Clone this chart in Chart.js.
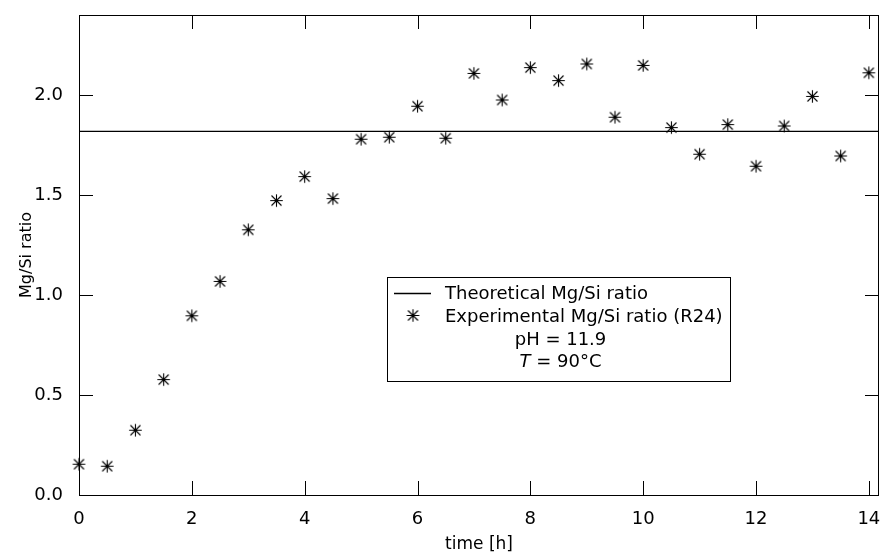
<!DOCTYPE html>
<html><head><meta charset="utf-8">
<script src="https://cdn.jsdelivr.net/npm/chart.js@4/dist/chart.umd.min.js"></script>
<style>html,body{margin:0;padding:0;background:#fff}#wrap{width:883px;height:555px}</style>
</head><body><div id="wrap"><canvas id="c" width="883" height="555"></canvas></div>
<script>
// ---- data ----
const timeH = [0,0.5,1,1.5,2,2.5,3,3.5,4,4.5,5,5.5,6,6.5,7,7.5,8,8.5,9,9.5,10,10.5,11,11.5,12,12.5,13,13.5,14];
const mgSiExperimental = [0.154,0.144,0.324,0.577,0.896,1.068,1.326,1.472,1.592,1.482,1.779,1.789,1.944,1.784,2.108,1.975,2.137,2.072,2.155,1.889,2.148,1.837,1.704,1.852,1.644,1.845,1.993,1.695,2.111];
const mgSiTheoretical = 1.818;
const xTickValues = [0,2,4,6,8,10,12,14];
const yTickValues = [0,0.5,1.0,1.5,2.0];
const xRange = [0, 14.18];
const yRange = [0, 2.4];
const xTitle = 'time [h]';
const yTitle = 'Mg/Si ratio';
const seriesNames = ['Theoretical Mg/Si ratio', 'Experimental Mg/Si ratio (R24)'];
const noteLines = ['pH = 11.9', ['T', ' = 90°C']];

// ---- marker ----
function makeAsterisk() {
  const c = document.createElement('canvas');
  c.width = 17; c.height = 17;
  const g = c.getContext('2d');
  const m = 8.5;
  g.strokeStyle = '#000'; g.lineWidth = 1.1;
  g.beginPath();
  g.moveTo(m-6.3, m); g.lineTo(m+6.3, m);
  g.moveTo(m, m-6.3); g.lineTo(m, m+6.3);
  g.moveTo(m-5, m-5); g.lineTo(m+5, m+5);
  g.moveTo(m-5, m+5); g.lineTo(m+5, m-5);
  g.stroke();
  g.fillStyle = '#000';
  g.beginPath(); g.arc(m, m, 1.7, 0, Math.PI*2); g.fill();
  return c;
}
const asterisk = makeAsterisk();

Chart.defaults.font.family = "'DejaVu Sans', sans-serif";
Chart.defaults.color = '#000';

const framePlugin = {
  id: 'frame',
  afterDatasetsDraw(chart) {
    const {ctx, chartArea: a, scales: {x, y}} = chart;
    ctx.save();
    ctx.strokeStyle = '#000'; ctx.lineWidth = 1;
    ctx.strokeRect(a.left + 0.5, a.top + 0.5, a.right - a.left - 1, a.bottom - a.top);
    ctx.beginPath();
    const L = 14;
    xTickValues.forEach(v => {
      const p = Math.round(x.getPixelForValue(v)) + 0.5;
      ctx.moveTo(p, a.bottom); ctx.lineTo(p, a.bottom - L);
      ctx.moveTo(p, a.top); ctx.lineTo(p, a.top + L);
    });
    yTickValues.forEach(v => {
      const p = Math.round(y.getPixelForValue(v)) + 0.5;
      ctx.moveTo(a.left, p); ctx.lineTo(a.left + L, p);
      ctx.moveTo(a.right, p); ctx.lineTo(a.right - L, p);
    });
    ctx.stroke();
    ctx.restore();
  },
  afterDraw(chart) {
    const ctx = chart.ctx;
    const box = {l: 387, t: 277, r: 730, b: 381};
    ctx.save();
    ctx.fillStyle = '#fff';
    ctx.fillRect(box.l, box.t, box.r - box.l, box.b - box.t);
    ctx.strokeStyle = '#000'; ctx.lineWidth = 1;
    ctx.strokeRect(box.l + 0.5, box.t + 0.5, box.r - box.l, box.b - box.t);
    // row 1
    ctx.lineWidth = 1.3;
    ctx.beginPath(); ctx.moveTo(394, 293.5); ctx.lineTo(431, 293.5); ctx.stroke();
    ctx.fillStyle = '#000';
    ctx.font = "18px 'DejaVu Sans'";
    ctx.textBaseline = 'alphabetic';
    ctx.textAlign = 'left';
    ctx.fillText(seriesNames[0], 445, 299);
    // row 2
    ctx.drawImage(asterisk, 413 - 8.5, 315.5 - 8.5);
    ctx.fillText(seriesNames[1], 445, 322);
    // row 3
    const cx = (box.l + box.r) / 2 + 2;
    ctx.textAlign = 'center';
    ctx.fillText(noteLines[0], cx, 345);
    // row 4 (italic T)
    ctx.textAlign = 'left';
    const it = "italic 18px 'DejaVu Sans'", nf = "18px 'DejaVu Sans'";
    ctx.font = it; const w1 = ctx.measureText(noteLines[1][0]).width;
    ctx.font = nf; const w2 = ctx.measureText(noteLines[1][1]).width;
    const sx = cx - (w1 + w2) / 2;
    ctx.font = it; ctx.fillText(noteLines[1][0], sx, 367);
    ctx.font = nf; ctx.fillText(noteLines[1][1], sx + w1, 367);
    ctx.restore();
  }
};

new Chart(document.getElementById('c'), {
  type: 'scatter',
  data: {
    datasets: [
      {
        type: 'line',
        label: seriesNames[0],
        data: [{x: xRange[0], y: mgSiTheoretical}, {x: xRange[1], y: mgSiTheoretical}],
        borderColor: '#000', borderWidth: 1.3, pointRadius: 0, fill: false
      },
      {
        label: seriesNames[1],
        data: timeH.map((t, i) => ({x: t, y: mgSiExperimental[i]})),
        pointStyle: asterisk, pointRadius: 7, clip: false
      }
    ]
  },
  options: {
    responsive: false, animation: false, devicePixelRatio: 1,
    layout: {autoPadding: false, padding: {top: 15, right: 4, left: 0, bottom: 0}},
    plugins: {legend: {display: false}, tooltip: {enabled: false}},
    scales: {
      x: {
        type: 'linear', min: xRange[0], max: xRange[1],
        grid: {display: false}, border: {display: false},
        afterBuildTicks: s => { s.ticks = xTickValues.map(v => ({value: v})); },
        afterFit: s => { s.height = 60; s.paddingLeft = 0; s.paddingRight = 0; },
        ticks: {font: {size: 18}, padding: 6, maxRotation: 0, callback: v => String(v)},
        title: {display: true, text: xTitle, font: {size: 17}, padding: 0}
      },
      y: {
        type: 'linear', min: yRange[0], max: yRange[1],
        grid: {display: false}, border: {display: false},
        afterBuildTicks: s => { s.ticks = yTickValues.map(v => ({value: v})); },
        afterFit: s => { s.width = 79; s.paddingTop = 0; s.paddingBottom = 0; },
        ticks: {font: {size: 18}, padding: 8, callback: v => Number(v).toFixed(1)},
        title: {display: true, text: yTitle, font: {size: 16}, padding: {top: 17, bottom: 0}}
      }
    }
  },
  plugins: [framePlugin]
});
</script>
</body></html>
